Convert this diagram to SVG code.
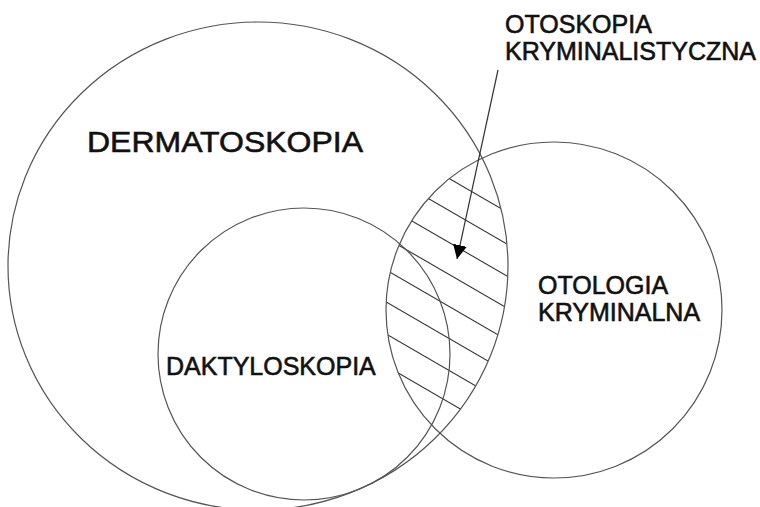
<svg xmlns="http://www.w3.org/2000/svg" width="760" height="507" viewBox="0 0 760 507">
  <style>
    .ring { fill: none; stroke: #555; stroke-width: 1.2; }
    .hatch { stroke: #333; stroke-width: 1.1; }
    .lbl { font-family: "Liberation Sans", Arial, sans-serif; fill: #111; stroke: #111; stroke-width: 0.6; }
    .conn { stroke: #333; stroke-width: 1.2; fill: none; }
  </style>
  <defs>
    <clipPath id="clipBig">
      <ellipse cx="258" cy="266" rx="250" ry="244"/>
    </clipPath>
    <clipPath id="clipOto">
      <circle cx="554" cy="310" r="168"/>
    </clipPath>
    <marker id="arrow" markerUnits="userSpaceOnUse" markerWidth="16" markerHeight="16" refX="14" refY="7" orient="auto">
      <path d="M0,0 L14,7 L0,14 Z" fill="#000"/>
    </marker>
  </defs>
  <rect width="760" height="507" fill="#fff"/>

  <g id="hatch-otoskopia">
    <g clip-path="url(#clipBig)">
      <g clip-path="url(#clipOto)">
        <line class="hatch" x1="370" y1="132.6" x2="520" y2="219.6"/>
        <line class="hatch" x1="370" y1="164.6" x2="520" y2="251.6"/>
        <line class="hatch" x1="370" y1="196.6" x2="520" y2="283.6"/>
        <line class="hatch" x1="370" y1="228.6" x2="520" y2="315.6"/>
        <line class="hatch" x1="370" y1="260.6" x2="520" y2="347.6"/>
        <line class="hatch" x1="370" y1="292.6" x2="520" y2="379.6"/>
        <line class="hatch" x1="370" y1="324.6" x2="520" y2="411.6"/>
        <line class="hatch" x1="370" y1="356.6" x2="520" y2="443.6"/>
      </g>
    </g>
  </g>

  <g id="dermatoskopia">
    <ellipse class="ring" cx="258" cy="266" rx="250" ry="244"/>
    <text class="lbl" x="87" y="152" font-size="30" textLength="276" lengthAdjust="spacingAndGlyphs">DERMATOSKOPIA</text>
  </g>

  <g id="daktyloskopia">
    <circle class="ring" cx="304" cy="354" r="146"/>
    <text class="lbl" x="166" y="375" font-size="25">DAKTYLOSKOPIA</text>
  </g>

  <g id="otologia">
    <circle class="ring" cx="554" cy="310" r="168"/>
    <text class="lbl" x="538" y="294" font-size="25">OTOLOGIA</text>
    <text class="lbl" x="538" y="321" font-size="25">KRYMINALNA</text>
  </g>

  <g id="otoskopia-label">
    <text class="lbl" x="505" y="33" font-size="25">OTOSKOPIA</text>
    <text class="lbl" x="505" y="60" font-size="25">KRYMINALISTYCZNA</text>
  </g>

  <g id="connectors">
    <line class="conn" x1="498" y1="70" x2="457" y2="259" marker-end="url(#arrow)"/>
  </g>
</svg>
